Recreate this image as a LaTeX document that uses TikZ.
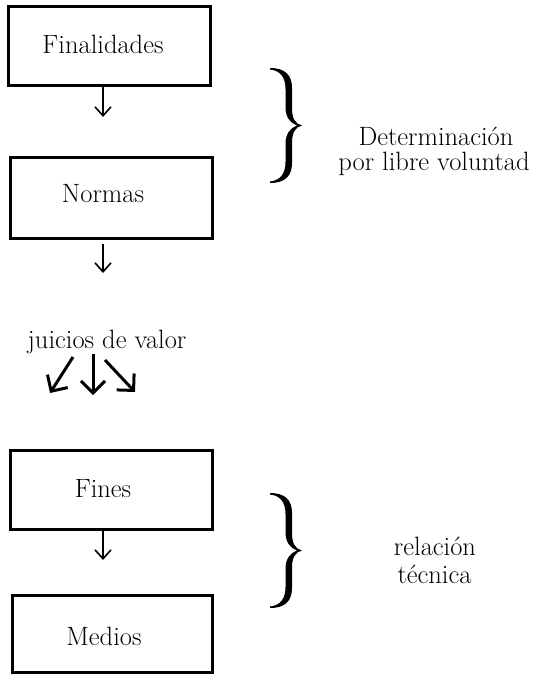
\documentclass[tikz,border=0pt]{standalone}
\usetikzlibrary{arrows.meta}
\begin{document}
\begin{tikzpicture}[x=1pt,y=-1pt,
  box/.style={draw,line width=3pt,minimum width=202pt,minimum height=79pt,inner sep=0pt},
  txt/.style={font=\fontsize{26.5}{28}\selectfont,inner sep=0pt,anchor=base},
  arr/.style={line width=1.6pt,-{Straight Barb[length=9pt,width=16pt,line width=1.6pt]}},
  jarr/.style={line width=3pt,-{Straight Barb[length=12pt,width=24pt,line width=3pt]}},
  bracefill/.style={fill=black}]
\useasboundingbox (0,0) rectangle (535,674);
\node[box] (fin) at (109,46.5) {};
\node[box,minimum height=81pt] (nor) at (111,197.5) {};
\node[box] (fines) at (111,489.5) {};
\node[box,minimum width=200pt,minimum height=77pt] (med) at (112,633.5) {};
\node[txt] (finT) at (103,54) {Finalidades};
\node[txt] (norT) at (103,202) {Normas};
\node[txt] (finesT) at (103,497) {Fines};
\node[txt] (medT) at (104,645) {Medios};
\node[txt] (jv) at (107,348) {juicios de valor};
\node[txt] (det1) at (436,145) {Determinaci\'on};
\node[txt] (det2) at (434,170) {por libre voluntad};
\node[txt] (rel1) at (435,555) {relaci\'on};
\node[txt] (rel2) at (434.5,583) {t\'ecnica};
% arrows
\coordinate (a1) at (103,117);
\coordinate (a2) at (103,273);
\coordinate (a3) at (103,560);
\draw[arr] (fin.south -| a1) -- (a1);
\draw[arr] (nor.south -| a2) ++(0,4) -- (a2);
\draw[arr] (fines.south -| a3) -- (a3);
\coordinate (j1s) at (73,357);
\coordinate (j1e) at (50,393);
\coordinate (j2s) at (93,354);
\coordinate (j2e) at (93,395);
\coordinate (j3s) at (105,360);
\coordinate (j3e) at (135,392);
\draw[jarr] (j1s) -- (j1e);
\draw[jarr] (j2s) -- (j2e);
\draw[jarr] (j3s) -- (j3e);
% braces
\def\bracepath{(0,0) .. controls (15,0) and (22,7) .. (22,20)
  -- (22,40) .. controls (22,50) and (25,56) .. (32,57.5)
  .. controls (25,59) and (22,65) .. (22,75)
  -- (22,95) .. controls (22,108) and (15,115) .. (0,115)
  -- (0,113.5) .. controls (10,112.5) and (15.5,106) .. (15.5,94)
  -- (15.5,76) .. controls (15.5,66) and (20,60) .. (27,57.5)
  .. controls (20,55) and (15.5,49) .. (15.5,39)
  -- (15.5,21) .. controls (15.5,9) and (10,2.5) .. (0,1.5) -- cycle}
\begin{scope}[shift={(270,68)}]
\fill[bracefill] \bracepath;
\end{scope}
\begin{scope}[shift={(270,493)}]
\fill[bracefill] \bracepath;
\end{scope}
\end{tikzpicture}
\end{document}
